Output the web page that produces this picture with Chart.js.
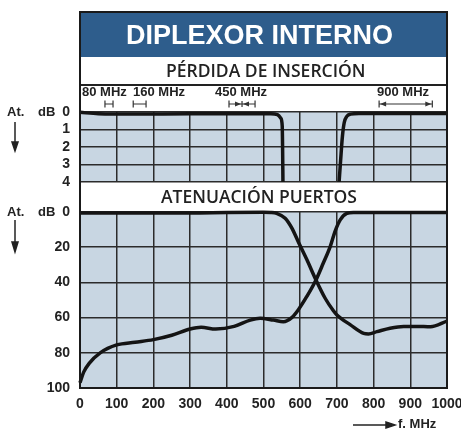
<html>
<head>
  <title>Diplexor interno</title>
  <style>
    body { margin: 0; background: #fff; }
    #wrap { position: relative; width: 461px; height: 432px; font-family: "Liberation Sans", Arial, sans-serif; }
    .abs { position: absolute; }
    canvas { position: absolute; left: 0; top: 0; }
    .lbl { position: absolute; font-weight: bold; font-size: 13px; color: #222; white-space: nowrap; }
    .band { position: absolute; font-family: "Open Sans", sans-serif; font-weight: 600; font-size: 17.5px; color: #222; white-space: nowrap; }
  </style>
</head>
<body>
<div id="wrap">
  <div class="abs" style="left:80px;top:12px;width:367px;height:45px;background:#2e5d8c"></div>
  <div class="abs" style="left:80px;top:84px;width:367px;height:2px;background:#222"></div>

  <canvas id="lossChart" width="461" height="200"></canvas>
  <canvas id="attChart" width="461" height="432"></canvas>

  <div class="abs" style="left:79px;top:11px;width:369px;height:378px;box-sizing:border-box;border:2px solid #1a1a1a"></div>

  <div class="abs" style="left:76px;top:12px;width:367px;height:45px;line-height:46px;text-align:center;color:#fff;font-weight:bold;font-size:27px">DIPLEXOR INTERNO</div>
  <div class="band" style="left:166px;top:58px">PÉRDIDA DE INSERCIÓN</div>
  <div class="band" style="left:161px;top:184px">ATENUACIÓN PUERTOS</div>

  <div class="lbl" style="left:82px;top:84px">80 MHz</div>
  <div class="lbl" style="left:133px;top:84px">160 MHz</div>
  <div class="lbl" style="left:215px;top:84px">450 MHz</div>
  <div class="lbl" style="left:377px;top:84px">900 MHz</div>

  <div class="lbl" style="left:7px;top:104px">At.</div>
  <div class="lbl" style="left:38px;top:104px">dB</div>
  <div class="lbl" style="left:7px;top:204px">At.</div>
  <div class="lbl" style="left:38px;top:204px">dB</div>
  <div class="lbl" style="left:398px;top:416px">f. MHz</div>

  <svg class="abs" style="left:0;top:0" width="461" height="432">
    <g stroke="#222" stroke-width="1.5" fill="#222">
      <line x1="15" y1="122" x2="15" y2="144"/>
      <polygon points="12,142 18,142 15,151"/>
      <line x1="15" y1="220" x2="15" y2="244"/>
      <polygon points="12,242 18,242 15,252"/>
      <line x1="353" y1="425" x2="388" y2="425"/>
      <polygon points="386,422 386,428 395,425"/>
    </g>
  </svg>
</div>

<script src="https://cdn.jsdelivr.net/npm/chart.js"></script>
<script>
  // insertion loss (top panel), dB
  const lossLowF   = [0, 50, 150, 300, 450, 520, 538, 547, 551, 552, 553]
  const lossLowDb  = [0.02, 0.1, 0.12, 0.1, 0.1, 0.1, 0.15, 0.35, 0.8, 2.0, 4.0]
  const lossHighF  = [706, 710, 715, 720, 727, 737, 760, 850, 1000]
  const lossHighDb = [4.0, 2.8, 1.4, 0.6, 0.25, 0.12, 0.08, 0.08, 0.08]

  // port attenuation (bottom panel), dB
  const lowPortF   = [0, 100, 200, 300, 400, 500, 520, 536, 559, 577, 595, 618, 643, 668, 690, 700, 736, 773, 786, 809, 845, 882, 918, 955, 1000]
  const lowPortDb  = [0.5, 0.5, 0.5, 0.5, 0.3, 0.2, 0.3, 0.8, 3.5, 9, 17, 27, 38.6, 49, 56, 58.5, 64, 69, 69.3, 68, 66, 65, 65, 65.2, 62]
  const highPortF  = [0, 10, 25, 55, 100, 150, 200, 250, 300, 330, 370, 420, 464, 491, 527, 554, 577, 595, 618, 643, 663, 682, 695, 709, 727, 745, 800, 1000]
  const highPortDb = [97, 91, 86, 80, 75.5, 74, 72.5, 70, 66.5, 65.5, 66.5, 65, 61.4, 60.4, 61.4, 62.3, 60, 55.5, 48, 38.6, 29, 19.5, 11, 4.5, 0.8, 0.3, 0.3, 0.3]

  // band markers above the top panel, MHz
  const bandStart = [68, 145, 406, 815]
  const bandEnd   = [90, 180, 477, 960]
  const bandKind  = ['bar', 'bar', 'in', 'out']

  const lossTicks = [0, 1, 2, 3, 4]
  const attTicks  = [0, 20, 40, 60, 80, 100]
  const freqTicks = [0, 100, 200, 300, 400, 500, 600, 700, 800, 900, 1000]

  const pts = (xs, ys) => xs.map((x, i) => ({x: x, y: ys[i]}))
  const tickFont = {family: '"Liberation Sans", Arial, sans-serif', size: 14, weight: 'bold'}

  const plotBg = {
    id: 'plotBg',
    beforeDraw(chart) {
      const a = chart.chartArea, c = chart.ctx
      c.save()
      c.fillStyle = '#c8d6e2'
      c.fillRect(a.left, a.top, a.right - a.left, a.bottom - a.top)
      c.restore()
    }
  }

  const bandMarks = {
    id: 'bandMarks',
    afterDraw(chart) {
      const c = chart.ctx, x = chart.scales.x, y = 104
      c.save()
      c.strokeStyle = '#333'; c.fillStyle = '#333'; c.lineWidth = 1.2
      const head = (px, dir) => {
        c.beginPath(); c.moveTo(px, y); c.lineTo(px - dir * 6, y - 2.5); c.lineTo(px - dir * 6, y + 2.5); c.closePath(); c.fill()
      }
      bandStart.forEach((s, i) => {
        const a = x.getPixelForValue(s), b = x.getPixelForValue(bandEnd[i])
        c.beginPath()
        c.moveTo(a, y); c.lineTo(b, y)
        c.moveTo(a, y - 3.5); c.lineTo(a, y + 3.5)
        c.moveTo(b, y - 3.5); c.lineTo(b, y + 3.5)
        c.stroke()
        if (bandKind[i] === 'in') {
          const m = (a + b) / 2
          head(m - 1, 1); head(m + 1, -1)
          c.beginPath(); c.moveTo(m, y - 3); c.lineTo(m, y + 3); c.stroke()
        } else if (bandKind[i] === 'out') {
          head(a + 1, -1); head(b - 1, 1)
        }
      })
      c.restore()
    }
  }

  const lineStyle = {pointRadius: 0, borderColor: '#141414', borderWidth: 3.5, cubicInterpolationMode: 'monotone', clip: false, fill: false}

  const xScale = (showTicks, h) => ({
    type: 'linear', min: 0, max: 1000,
    grid: {color: '#2b2b2b', lineWidth: 1.5, drawTicks: false},
    border: {display: false},
    afterBuildTicks: s => { s.ticks = freqTicks.map(v => ({value: v})) },
    ticks: {display: showTicks, autoSkip: false, maxRotation: 0, minRotation: 0, padding: 8,
            color: '#222', font: tickFont, callback: v => String(v)},
    afterFit: s => { s.height = h; s.paddingLeft = 0; s.paddingRight = 0 }
  })

  const yScale = (max, ticks) => ({
    type: 'linear', min: 0, max: max, reverse: true,
    grid: {color: '#2b2b2b', lineWidth: 1.5, drawTicks: false},
    border: {display: false},
    afterBuildTicks: s => { s.ticks = ticks.map(v => ({value: v})) },
    ticks: {autoSkip: false, padding: 10, color: '#222', font: tickFont},
    afterFit: s => { s.width = 80; s.paddingTop = 0; s.paddingBottom = 0 }
  })

  const common = {
    responsive: false,
    animation: false,
    plugins: {legend: {display: false}, tooltip: {enabled: false}}
  }

  new Chart(document.getElementById('lossChart'), {
    type: 'line',
    data: {datasets: [
      {...lineStyle, data: pts(lossLowF, lossLowDb)},
      {...lineStyle, data: pts(lossHighF, lossHighDb)}
    ]},
    options: {...common,
      layout: {padding: {top: 112, right: 14, bottom: 0, left: 0}},
      scales: {x: xScale(false, 18), y: yScale(4, lossTicks)}
    },
    plugins: [plotBg, bandMarks]
  })

  new Chart(document.getElementById('attChart'), {
    type: 'line',
    data: {datasets: [
      {...lineStyle, data: pts(lowPortF, lowPortDb)},
      {...lineStyle, data: pts(highPortF, highPortDb)}
    ]},
    options: {...common,
      layout: {padding: {top: 212, right: 14, bottom: 0, left: 0}},
      scales: {x: xScale(true, 44), y: yScale(100, attTicks)}
    },
    plugins: [plotBg]
  })
</script>
</body>
</html>
